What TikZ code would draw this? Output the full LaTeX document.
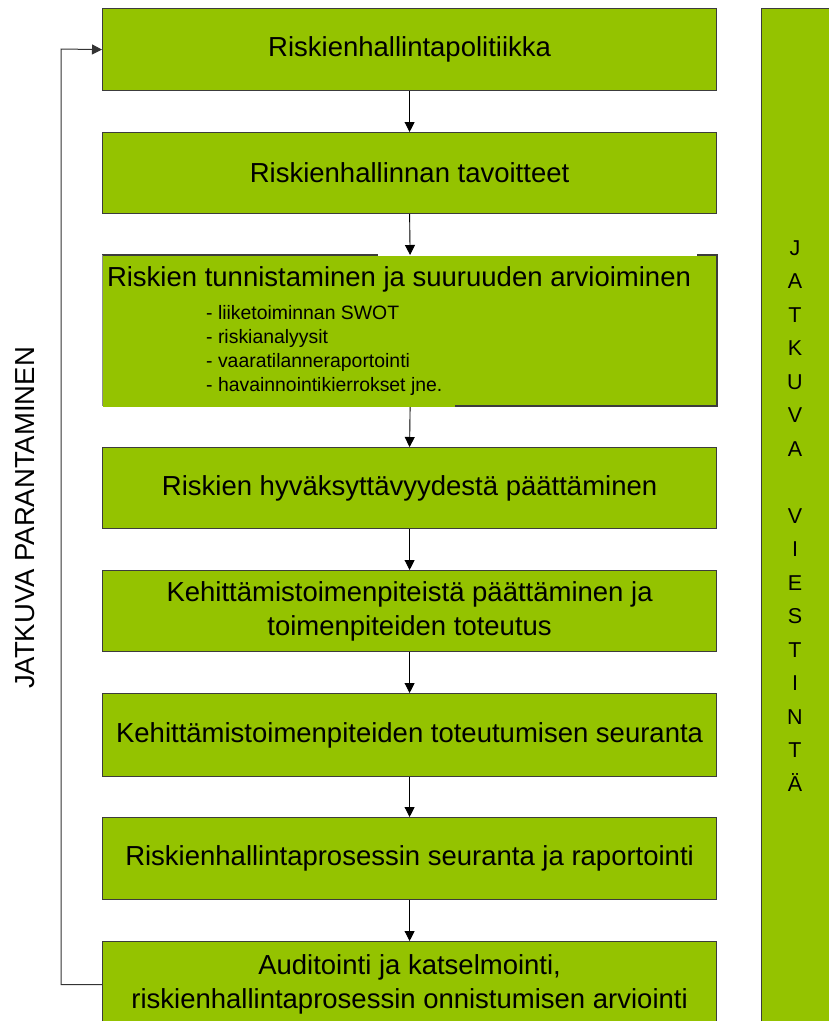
\documentclass[tikz,border=0pt]{standalone}
\usepackage{fontspec}
\setmainfont{Liberation Sans}
\usetikzlibrary{arrows.meta}
\definecolor{boxgreen}{RGB}{148,195,0}
\definecolor{edgegray}{RGB}{60,60,60}
\begin{document}
\begin{tikzpicture}[x=1pt,y=-1pt,
  box/.style={draw=edgegray, line width=1.2pt, fill=boxgreen, inner sep=0pt,
    minimum width=614pt, anchor=north west, align=center,
    font=\fontsize{27.5}{34}\selectfont},
  flow/.style={draw=black, line width=0.9pt, -{Triangle[length=10pt,width=10pt]}},
  loopline/.style={draw=black!80, line width=1pt, -{Triangle[length=10pt,width=10pt]}},
  edge/.style={draw=edgegray, line width=1.2pt}]
\clip (0,0) rectangle (829,1021);
\fill[white] (0,0) rectangle (829,1021);

% boxes
\node[box, minimum height=82pt] (b1) at (102,8) {Riskienhallintapolitiikka};
\node[box, minimum height=81pt] (b2) at (102,132) {Riskienhallinnan tavoitteet};
\node[box, draw=none, minimum width=615pt, minimum height=151pt] (b3) at (102,255) {};
\node[box, minimum height=81pt] (b4) at (102,447) {Riskien hyväksyttävyydestä päättäminen};
\node[box, minimum height=81pt] (b5) at (102,570) {Kehittämistoimenpiteistä päättäminen ja\\toimenpiteiden toteutus};
\node[box, minimum height=83pt] (b6) at (102,693) {Kehittämistoimenpiteiden toteutumisen seuranta};
\node[box, minimum height=82pt] (b7) at (102,817) {Riskienhallintaprosessin seuranta ja raportointi};
\node[box, minimum height=86pt] (b8) at (102,941) {Auditointi ja katselmointi,\\riskienhallintaprosessin onnistumisen arviointi};

% partial border of box 3
\draw[edge] (102,255) -- (378,255);
\draw[edge] (697,255) -- (717,255) -- (717,406) -- (455,406);
\draw[draw=black!45, line width=1pt] (102,255) -- (102,406);

% box 3 texts
\node[font=\fontsize{27.5}{34}\selectfont, inner sep=0pt] (b3t) at (399,279) {Riskien tunnistaminen ja suuruuden arvioiminen};
\node[font=\fontsize{19.4}{23.7}\selectfont, align=left, anchor=west, inner sep=0pt] (b3i) at (206,350.5)
  {- liiketoiminnan SWOT\\- riskianalyysit\\- vaaratilanneraportointi\\- havainnointikierrokset jne.};

% right column
\node[box, minimum width=80pt, minimum height=1030pt] (rc) at (761,8) {};
\node[font=\fontsize{21.5}{33.5}\selectfont, align=center, inner sep=0pt] (rct) at (795,516)
  {J\\A\\T\\K\\U\\V\\A\\\mbox{}\\V\\I\\E\\S\\T\\I\\N\\T\\Ä};

% left label
\node[font=\fontsize{27.5}{30}\selectfont, rotate=90, inner sep=0pt] (lt) at (25,518) {JATKUVA PARANTAMINEN};

% flow arrows
\draw[flow] (b1.south) -- (b2.north);
\draw[flow] (b2.south) -- (b3.north);
\draw[flow] (b3.south) -- (b4.north);
\draw[flow] (b4.south) -- (b5.north);
\draw[flow] (b5.south) -- (b6.north);
\draw[flow] (b6.south) -- (b7.north);
\draw[flow] (b7.south) -- (b8.north);

% feedback loop
\coordinate (lp) at (61,49);
\draw[loopline] (b8.west) -| (lp) -- (b1.west);
\end{tikzpicture}
\end{document}
